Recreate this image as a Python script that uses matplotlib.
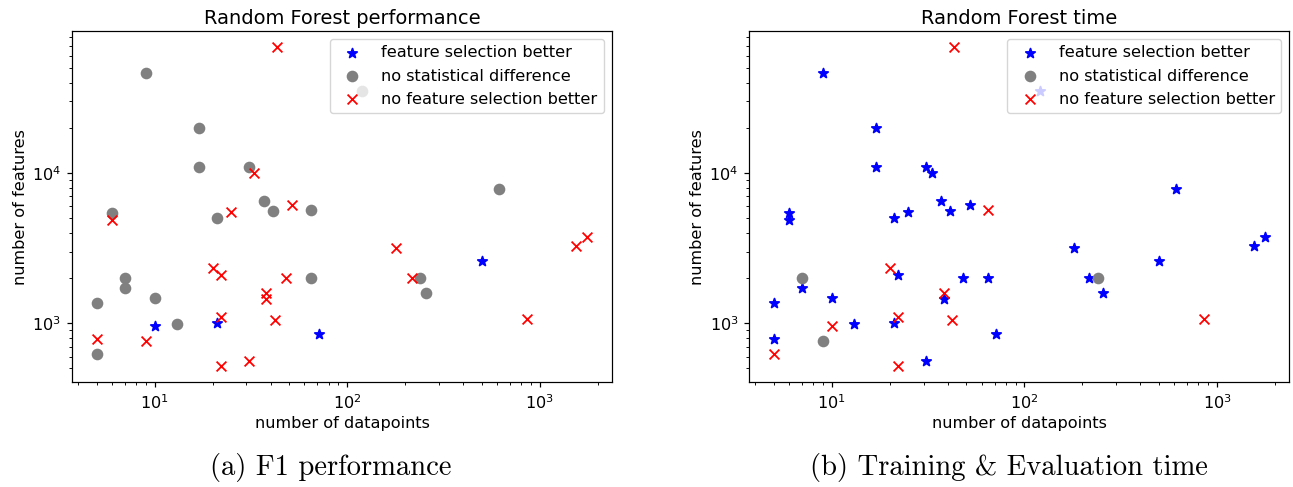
import numpy as np
import matplotlib
matplotlib.use("Agg")
import matplotlib.pyplot as plt

# dataset sizes (same datasets in both panels)
n_datapoints = [9, 17, 17, 31, 37, 41, 65, 21, 6, 615,
                7, 7, 5, 10, 13, 5, 65, 240, 256, 120,
                10, 21, 71, 500,
                43, 33, 25, 52, 6, 20, 22, 48, 38, 38,
                22, 42, 5, 9, 22, 31, 180, 216, 853, 1545, 1766]
n_features = [46000, 20000, 11000, 11000, 6500, 5560, 5680, 5050, 5440, 7850,
              2000, 1725, 1370, 1475, 990, 622, 2000, 2000, 1590, 35000,
              955, 1000, 845, 2610,
              69000, 9960, 5475, 6150, 4840, 2320, 2095, 2000, 1585, 1452,
              1107, 1047, 790, 763, 517, 564, 3186, 2000, 1073, 3270, 3750]

# outcome per dataset: 'fs' = feature selection better, 'eq' = no difference,
# 'nofs' = no feature selection better
perf_result = ['eq'] * 20 + ['fs'] * 4 + ['nofs'] * 21
time_result = ['fs', 'fs', 'fs', 'fs', 'fs', 'fs', 'nofs', 'fs', 'fs', 'fs',
               'eq', 'fs', 'fs', 'fs', 'fs', 'nofs', 'fs', 'eq', 'fs', 'fs',
               'nofs', 'fs', 'fs', 'fs',
               'nofs', 'fs', 'fs', 'fs', 'fs', 'nofs', 'fs', 'fs', 'nofs', 'fs',
               'nofs', 'nofs', 'fs', 'eq', 'nofs', 'fs', 'fs', 'fs', 'nofs', 'fs', 'fs']

titles = ['Random Forest performance', 'Random Forest time']
captions = ['(a) F1 performance', '(b) Training & Evaluation time']

styles = [('fs', '*', 'blue', 'feature selection better'),
          ('eq', 'o', 'gray', 'no statistical difference'),
          ('nofs', 'x', 'red', 'no feature selection better')]

x = np.array(n_datapoints)
y = np.array(n_features)

k = 1.1   # line scale of the embedded panels
kt = 1.16  # text scale
plt.rcParams.update({
    'axes.linewidth': 0.8 * k,
    'xtick.major.size': 3.5 * k, 'ytick.major.size': 3.5 * k,
    'xtick.minor.size': 2 * k, 'ytick.minor.size': 2 * k,
    'xtick.major.width': 0.8 * k, 'ytick.major.width': 0.8 * k,
    'xtick.minor.width': 0.6 * k, 'ytick.minor.width': 0.6 * k,
    'xtick.major.pad': 3.5 * k, 'ytick.major.pad': 3.5 * k,
})

fig = plt.figure(figsize=(12.93, 4.87), dpi=100)
positions = [[0.0557, 0.2151, 0.4176, 0.7213], [0.5795, 0.2151, 0.4176, 0.7213]]
caption_x = [0.256, 0.780]

for pos, title, cap, cx, result in zip(positions, titles, captions, caption_x,
                                       [perf_result, time_result]):
    ax = fig.add_axes(pos)
    res = np.array(result)
    for key, marker, color, label in styles:
        m = res == key
        ax.scatter(x[m], y[m], marker=marker, c=color, s=50,
                   linewidths=1.3, label=label)
    ax.set_xscale('log')
    ax.set_yscale('log')
    ax.set_title(title, fontsize=12 * kt, pad=5)
    ax.set_xlabel('number of datapoints', fontsize=10 * kt, labelpad=3)
    ax.set_ylabel('number of features', fontsize=10 * kt, labelpad=3)
    ax.tick_params(labelsize=10 * kt)
    ax.legend(loc='upper right', fontsize=10 * kt, borderaxespad=0.5)
    fig.text(cx, 0.041, cap, ha='center', va='center', fontsize=20.6,
             family=['cmr10', 'DejaVu Serif'])

fig.savefig('out.png', dpi=100)
